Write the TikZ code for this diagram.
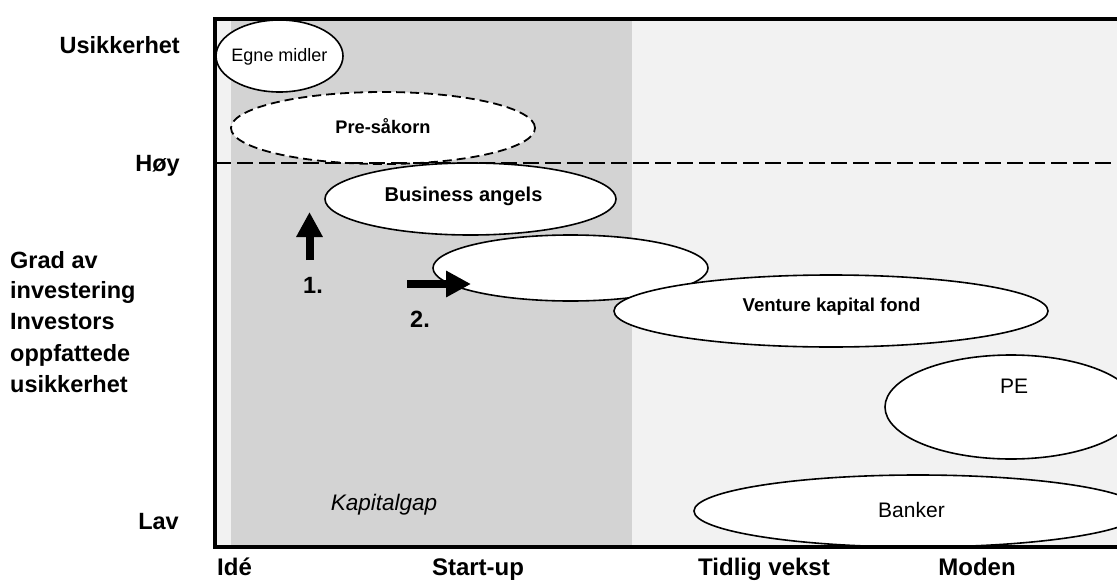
\documentclass[tikz,border=0pt]{standalone}
\usepackage{fontspec}
\setmainfont{Liberation Sans}
\usetikzlibrary{shapes.geometric,arrows.meta}
\definecolor{bglight}{HTML}{F2F2F2}
\definecolor{bgdark}{HTML}{D3D3D3}
\tikzset{
  ell/.style={ellipse, draw=black, fill=white, line width=1.6pt, inner sep=0pt, outer sep=0pt},
  dashell/.style={ell, dash pattern=on 9pt off 5pt, line width=1.8pt},
  lbl/.style={font=\fontsize{23.5}{28}\selectfont\bfseries, inner sep=0pt},
  botlbl/.style={font=\fontsize{24}{28}\selectfont\bfseries, inner sep=0pt, anchor=base},
  boldin/.style={font=\fontsize{#1}{#1}\selectfont\bfseries, inner sep=0pt, anchor=base},
  plainin/.style={font=\fontsize{#1}{#1}\selectfont, inner sep=0pt, anchor=base},
  fatarrow/.style={line width=8pt, -{Triangle[length=25pt,width=25pt]}},
  frameline/.style={line width=4pt, line join=miter},
  hline/.style={line width=1.6pt, dash pattern=on 16pt off 6pt},
}
\begin{document}
\begin{tikzpicture}[x=1pt,y=-1pt]
\useasboundingbox (0,0) rectangle (1117,581);
% backgrounds
\fill[bglight] (215,19) rectangle (1117,547);
\fill[bgdark] (231,21) rectangle (632,545);
% ellipses
\node[ell, minimum width=127pt, minimum height=72pt] (egne) at (279.5,56) {};
\node[dashell, minimum width=304pt, minimum height=72pt] (pre) at (383,128) {};
\node[ell, minimum width=291pt, minimum height=72pt] (ba) at (470.5,199) {};
\node[ell, minimum width=275pt, minimum height=66pt] (empty) at (570.5,268) {};
\node[ell, minimum width=434pt, minimum height=72pt] (vc) at (831,311) {};
\node[ell, minimum width=252pt, minimum height=104pt] (pe) at (1011,407) {};
\node[ell, minimum width=448pt, minimum height=72pt] (bank) at (918,511) {};
% dashed threshold line
\coordinate (hL) at (215,163);
\coordinate (hR) at (1117,163);
\draw[hline] (hL) -- (hR);
% frame
\coordinate (fTR) at (1117,19);
\coordinate (fTL) at (215,19);
\coordinate (fBL) at (215,547);
\coordinate (fBR) at (1117,547);
\draw[frameline] (fTR) -- (fTL) -- (fBL) -- (fBR);
% ellipse texts
\node[plainin=18] (tegne) at (279.5,61.5) {Egne midler};
\node[boldin=18.2] (tpre) at (383,133.3) {Pre-såkorn};
\node[boldin=20] (tba) at (463.5,201.7) {Business angels};
\node[boldin=18.6] (tvc) at (831.5,311.7) {Venture kapital fond};
\node[plainin=21] (tpe) at (1014,393.3) {PE};
\node[plainin=21] (tbank) at (911.5,517.3) {Banker};
\node[font=\fontsize{22.5}{26}\selectfont\itshape, inner sep=0pt, anchor=base] (kap) at (384,510) {Kapitalgap};
% arrows
\coordinate (a1s) at (309.5,260);
\coordinate (a1e) at (309.5,212);
\draw[fatarrow] (a1s) -- (a1e);
\coordinate (a2s) at (407,284);
\coordinate (a2e) at (471,284);
\draw[fatarrow] (a2s) -- (a2e);
\node[lbl, anchor=base west] (n1) at (303,293) {1.};
\node[lbl, anchor=base west] (n2) at (410,327) {2.};
% left labels
\node[lbl, anchor=base east] (usik) at (180,53.4) {Usikkerhet};
\node[lbl, anchor=base east] (hoy) at (180,171.5) {Høy};
\node[lbl, anchor=base east] (lav) at (179,529.3) {Lav};
\node[lbl, anchor=base west] (g1) at (10,268) {Grad av};
\node[lbl, anchor=base west] (g2) at (10,298) {investering};
\node[lbl, anchor=base west] (g3) at (10,329.5) {Investors};
\node[lbl, anchor=base west] (g4) at (10,361) {oppfattede};
\node[lbl, anchor=base west] (g5) at (10,392) {usikkerhet};
% bottom labels
\node[botlbl, anchor=base west] (ide) at (217,575.5) {Idé};
\node[botlbl] (start) at (478,575.5) {Start-up};
\node[botlbl] (tidlig) at (764,575.5) {Tidlig vekst};
\node[botlbl] (moden) at (977,575.5) {Moden};
\end{tikzpicture}
\end{document}
